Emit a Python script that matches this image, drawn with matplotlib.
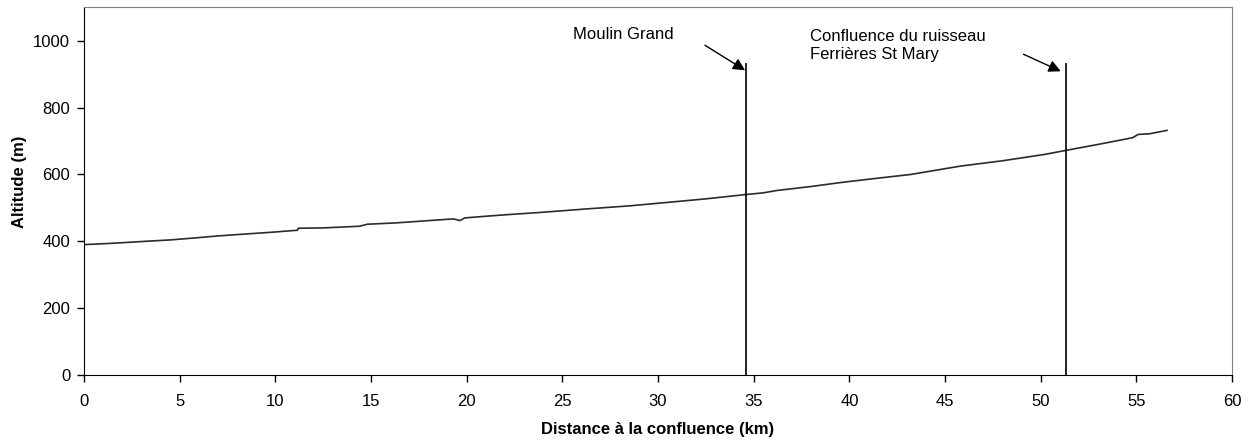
import matplotlib
matplotlib.use('Agg')
import matplotlib.pyplot as plt

plt.rcParams['font.family'] = ['Liberation Sans', 'DejaVu Sans']
plt.rcParams['font.size'] = 12

# Profil en long (distance km, altitude m)
distance_km = [0, 1.5, 3.25, 4.5, 5.8, 7.0, 8.5, 9.8, 11.15, 11.2, 12.5, 14.4, 14.8,
               16.3, 17.8, 19.3, 19.65, 19.9, 21.7, 24.0, 26.3, 28.5, 30.6, 32.5,
               34.6, 35.5, 36.2, 38.0, 39.7, 41.5, 43.2, 45.8, 48.0, 50.2, 51.4,
               53.0, 54.8, 55.1, 55.7, 56.6]
altitude_m = [390, 394, 400, 404, 410, 416, 422, 427, 433, 439, 440, 445, 451,
              455, 461, 467, 462, 470, 478, 487, 497, 506, 517, 527,
              540, 545, 552, 564, 577, 589, 600, 625, 641, 660, 673,
              690, 710, 720, 722, 732]

# Repères
repere_km = [34.6, 51.3]
repere_haut = 935
repere_noms = ['Moulin Grand', 'Confluence du ruisseau\nFerrières St Mary']
texte_pos = [(25.55, 1020), (37.95, 985)]
fleche_queue = [(32.45, 987), (49.1, 960)]
fleche_tete = [(34.55, 912), (51.05, 909)]

fig = plt.figure(figsize=(12.55, 4.41), dpi=100)
ax = fig.add_axes([0.067, 0.150, 0.9147, 0.833])

ax.plot(distance_km, altitude_m, color='#2b2b2b', lw=1.2)

for km in repere_km:
    ax.vlines(km, 0, repere_haut, color='black', lw=1.2)

for nom, (x, y) in zip(repere_noms, texte_pos):
    ax.text(x, y, nom, ha='left', va='center', fontsize=12, linespacing=1.25)

for queue, tete in zip(fleche_queue, fleche_tete):
    ax.annotate('', xy=tete, xytext=queue,
                arrowprops=dict(arrowstyle='-|>', color='black', lw=1,
                                mutation_scale=18, shrinkA=0, shrinkB=0))

ax.set_xlim(0, 60)
ax.set_ylim(0, 1100)
ax.set_xticks(range(0, 61, 5))
ax.set_yticks(range(0, 1001, 200))
ax.tick_params(direction='out', length=5, width=1, labelsize=12)
ax.tick_params(axis='x', pad=9)
ax.tick_params(axis='y', pad=5)
ax.spines['top'].set_color('#808080')
ax.spines['right'].set_color('#808080')
for s in ['left', 'bottom']:
    ax.spines[s].set_color('black')

ax.set_xlabel('Distance à la confluence (km)', fontweight='bold', fontsize=12, labelpad=9)
ax.set_ylabel('Altitude (m)', fontweight='bold', fontsize=12, labelpad=4.5)
ax.yaxis.label.set_y(0.525)

fig.savefig('out.png', dpi=100)
